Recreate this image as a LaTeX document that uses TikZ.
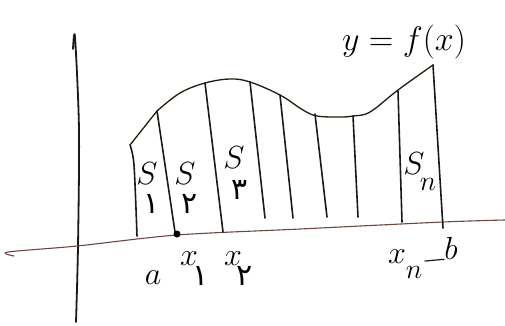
\RequirePackage{fix-cm}
\documentclass[tikz,border=0pt]{standalone}
\usepackage{fontspec}
\newfontfamily\fafont{DejaVu Sans}
\begin{document}
\begin{tikzpicture}[x=1pt,y=-1pt,
  ink/.style={line width=1.6pt,line cap=round,line join=round,black!90},
  curveink/.style={line width=1.3pt,line cap=round,line join=round,black!80!brown},
  axisx/.style={line width=1.1pt,line cap=round,color={rgb,255:red,110;green,70;blue,65}},
  lbl/.style={inner sep=0pt,font=\fontsize{32}{32}\selectfont},
  sub/.style={inner sep=0pt,font=\fafont\fontsize{30}{30}\selectfont}]
\useasboundingbox (0,0) rectangle (505,325);
% axes
\draw[ink,line width=1.8pt] plot[smooth] coordinates {(73,49) (75,37) (79,130) (78,246) (76,322)};
\draw[axisx] plot[smooth] coordinates {(14,256) (8,252) (77,246) (177,235) (300,229) (443,222) (505,220)};
% curve y=f(x)
\draw[curveink] (130,145) -- (157,111);
\draw[curveink] plot[smooth,tension=0.6] coordinates {(157,111) (180,93) (205,83) (230,79) (250,82) (280,95) (303,110) (317,116) (340,117) (353,116) (370,112) (398,90) (433,65)};
% strips
\draw[ink] plot[smooth] coordinates {(130,145) (134,165) (137,236)};
\draw[ink] (157,111) -- (175,232);
\draw[ink] (205,83) -- (223,232);
\draw[ink] (250,82) -- (265,218);
\draw[ink] (280,95) -- (293,218);
\draw[ink] (315,114) -- (327,217);
\draw[ink] (353,116) -- (358,217);
\draw[ink] (398,91) -- (402,222);
\draw[ink] (433,65) -- (443,228);
\fill[black] (177,234) circle (3.5);
% labels
\node[lbl,font=\fontsize{34}{34}\selectfont] (f) at (404,42) {$y=f(x)$};
\node[lbl] (s1) at (147,174) {$S$};
\node[sub] (s1i) at (152,204) {۱};
\node[lbl] (s2) at (185,174) {$S$};
\node[sub] (s2i) at (190,204) {۲};
\node[lbl] (s3) at (234,158) {$S$};
\node[sub] (s3i) at (240,190) {۳};
\node[lbl] (sn) at (414,164) {$S$};
\node[lbl,font=\fontsize{28}{28}\selectfont] (sni) at (428,184) {$n$};
\node[lbl] (a) at (153,278) {$a$};
\node[lbl] (x1) at (189,259) {$x$};
\node[sub] (x1i) at (201,276) {۱};
\node[lbl] (x2) at (233,259) {$x$};
\node[sub] (x2i) at (245,276) {۲};
\node[lbl] (xn) at (397,257) {$x$};
\node[lbl,font=\fontsize{28}{28}\selectfont] (xni) at (414,272) {$n$};
\node[lbl] (b) at (451,248) {$b$};
\draw[ink,line width=1.2pt] (425,261) -- (b.south west);
\end{tikzpicture}
\end{document}
